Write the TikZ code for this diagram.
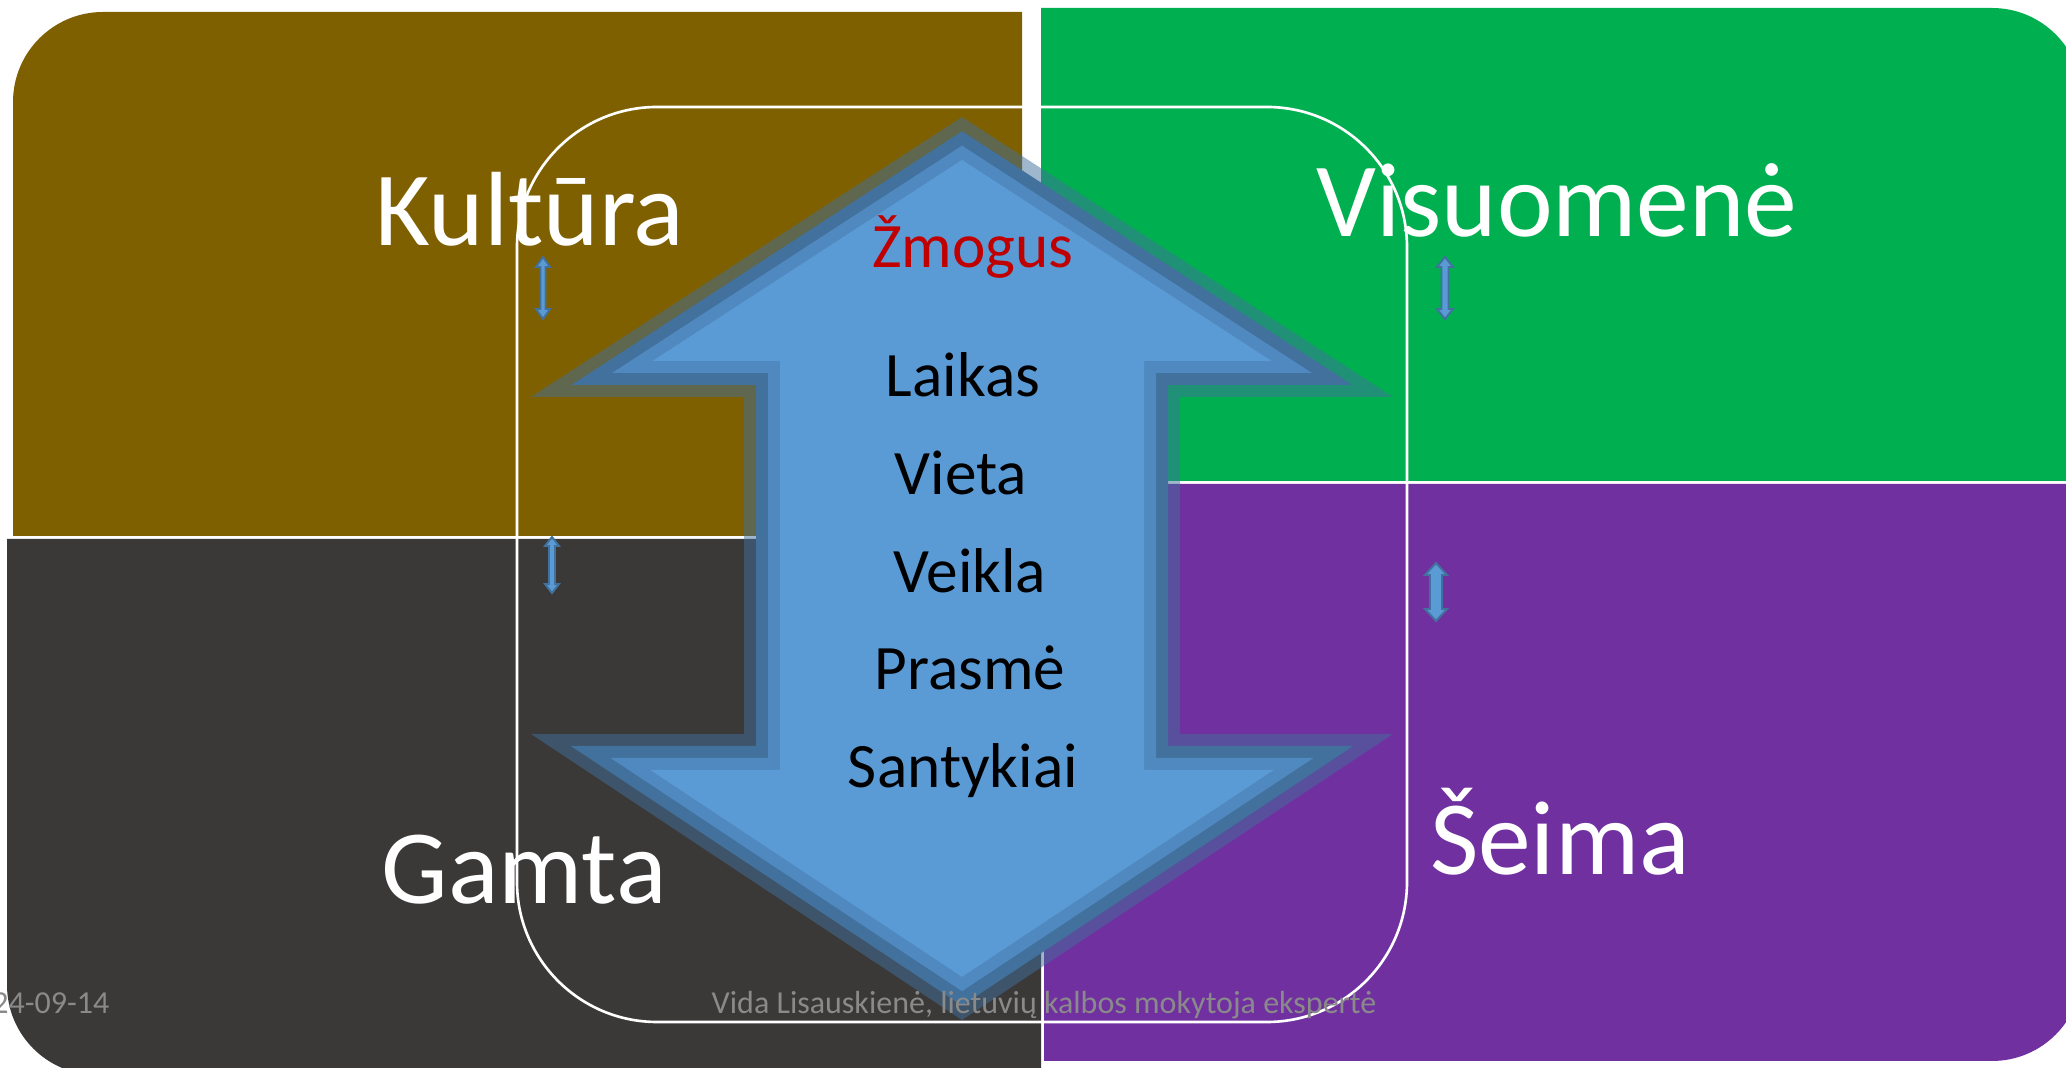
\documentclass[tikz,border=0pt]{standalone}
\usepackage{fontspec}
\setmainfont{Carlito}
\definecolor{kult}{HTML}{7F6000}
\definecolor{visu}{HTML}{00B050}
\definecolor{gamt}{HTML}{3B3838}
\definecolor{seim}{HTML}{7030A0}
\definecolor{arrlight}{HTML}{5B9BD5}
\definecolor{arrmid}{HTML}{5089BF}
\definecolor{arrdark}{HTML}{41719C}
\definecolor{zred}{HTML}{C00000}
\definecolor{foot}{HTML}{8A8A8A}
\newcommand\arrowlayer[2]{%
  \fill[#2] (962,{117+1.1926*#1}) -- ({962+431-3.3748*#1},{397-#1}) -- ({1180-#1},{397-#1})
    -- ({1180-#1},{734+#1}) -- ({962+431-3.3156*#1},{734+#1}) -- (962,{1020-1.2002*#1})
    -- ({962-431+3.3156*#1},{734+#1}) -- ({744+#1},{734+#1}) -- ({744+#1},{397-#1})
    -- ({962-431+3.3748*#1},{397-#1}) -- cycle;}
\newcommand\dblarrow[6]{%
  \filldraw[smallarr] (#1,#2) -- ({#1+#4},{#2+#5}) -- ({#1+#6},{#2+#5}) -- ({#1+#6},{#3-#5})
    -- ({#1+#4},{#3-#5}) -- (#1,#3) -- ({#1-#4},{#3-#5}) -- ({#1-#6},{#3-#5})
    -- ({#1-#6},{#2+#5}) -- ({#1-#4},{#2+#5}) -- cycle;}
\tikzset{
  quad/.style={text=white, inner sep=0pt, anchor=base, font=\fontsize{30}{35}\selectfont},
  inner/.style={text=black, inner sep=0pt, anchor=base, font=\fontsize{18}{21}\selectfont},
  footer/.style={text=foot, inner sep=0pt, anchor=base, font=\fontsize{9.1}{11}\selectfont},
  smallarr/.style={fill=arrlight, draw=arrdark, line width=0.55pt, line join=miter},
}
\begin{document}
\begin{tikzpicture}[x=0.01cm, y=-0.01cm]
\useasboundingbox (0,0) rectangle (2066,1068);
\fill[white] (0,0) rectangle (2066,1068);
% quadrants
\fill[kult] (13,536) -- (13,102) .. controls (13,52.3) and (53.3,12) .. (103,12) -- (1022,12) -- (1022,536) -- cycle;
\fill[visu] (1041,8) -- (1992,8) .. controls (2041.7,8) and (2082,48.3) .. (2082,98) -- (2082,481) -- (1041,481) -- cycle;
\fill[gamt] (7,539) -- (1041,539) -- (1041,1075) -- (97,1075) .. controls (47.3,1075) and (7,1034.7) .. (7,985) -- cycle;
\fill[seim] (1044,484) -- (2082,484) -- (2082,971) .. controls (2082,1020.7) and (2041.7,1061) .. (1992,1061) -- (1044,1061) -- cycle;
% big double arrow
\arrowlayer{0}{arrdark, fill opacity=0.5}
\arrowlayer{12}{arrdark}
\arrowlayer{24}{arrmid}
\arrowlayer{36}{arrlight}
% inner rounded frame
\draw[white, line width=0.75pt, rounded corners=1.4cm] (517,107) rectangle (1407,1022);
% small arrows
\dblarrow{543}{257}{319}{7}{10}{2.5}
\dblarrow{1445}{257}{319}{8}{10}{3.5}
\dblarrow{552}{537}{593}{7}{9}{3}
\dblarrow{1436}{563}{621}{11}{12}{6}
% texts
\node[quad] (kultura) at (530,246) {Kultūra};
\node[quad] (visuomene) at (1557,237) {Visuomenė};
\node[quad] (gamta) at (524,904) {Gamta};
\node[quad] (seima) at (1560,875) {Šeima};
\node[inner, text=zred] (zmogus) at (973,268) {Žmogus};
\node[inner] (laikas) at (963,397) {Laikas};
\node[inner] (vieta) at (961,495) {Vieta};
\node[inner] (veikla) at (970,593) {Veikla};
\node[inner] (prasme) at (970,690) {Prasmė};
\node[inner] (santykiai) at (963,788) {Santykiai};
\node[footer] (author) at (1044,1014) {Vida Lisauskienė, lietuvių kalbos mokytoja ekspertė};
\node[footer, anchor=base east] (date) at (110,1014) {24-09-14};
\end{tikzpicture}
\end{document}
